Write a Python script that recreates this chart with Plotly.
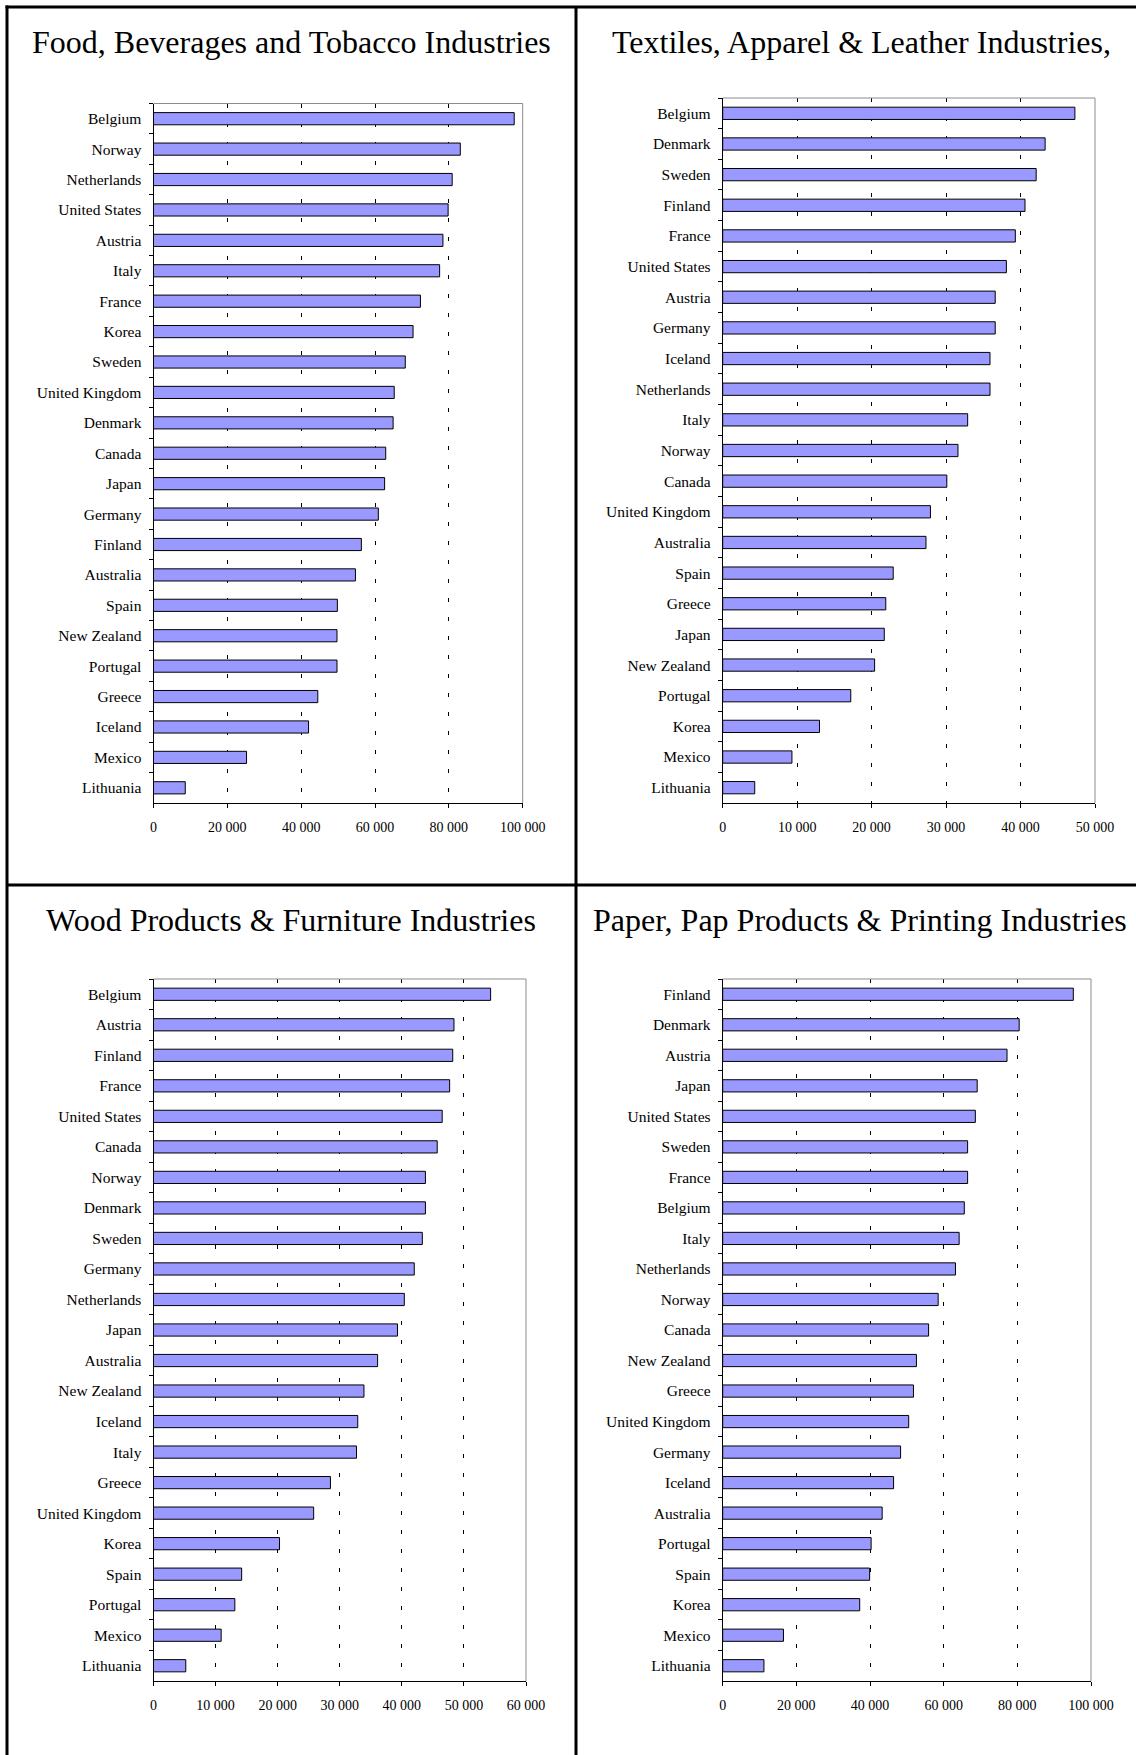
import plotly.graph_objects as go

# ---------------- data ----------------
food_countries = ["Belgium", "Norway", "Netherlands", "United States", "Austria", "Italy",
                  "France", "Korea", "Sweden", "United Kingdom", "Denmark", "Canada", "Japan",
                  "Germany", "Finland", "Australia", "Spain", "New Zealand", "Portugal",
                  "Greece", "Iceland", "Mexico", "Lithuania"]
food_values = [97700, 83100, 80900, 79800, 78400, 77500, 72300, 70300, 68200, 65200, 64900,
               62900, 62600, 60900, 56300, 54700, 49800, 49700, 49700, 44500, 42000, 25200, 8600]

textile_countries = ["Belgium", "Denmark", "Sweden", "Finland", "France", "United States",
                     "Austria", "Germany", "Iceland", "Netherlands", "Italy", "Norway", "Canada",
                     "United Kingdom", "Australia", "Spain", "Greece", "Japan", "New Zealand",
                     "Portugal", "Korea", "Mexico", "Lithuania"]
textile_values = [47300, 43300, 42100, 40600, 39300, 38100, 36600, 36600, 35900, 35900, 32900,
                  31600, 30100, 27900, 27300, 22900, 21900, 21700, 20400, 17200, 13000, 9300, 4300]

wood_countries = ["Belgium", "Austria", "Finland", "France", "United States", "Canada", "Norway",
                  "Denmark", "Sweden", "Germany", "Netherlands", "Japan", "Australia",
                  "New Zealand", "Iceland", "Italy", "Greece", "United Kingdom", "Korea", "Spain",
                  "Portugal", "Mexico", "Lithuania"]
wood_values = [54300, 48400, 48200, 47700, 46500, 45700, 43800, 43800, 43300, 42000, 40400,
               39300, 36100, 33900, 32900, 32700, 28500, 25800, 20300, 14200, 13100, 10900, 5200]

paper_countries = ["Finland", "Denmark", "Austria", "Japan", "United States", "Sweden", "France",
                   "Belgium", "Italy", "Netherlands", "Norway", "Canada", "New Zealand", "Greece",
                   "United Kingdom", "Germany", "Iceland", "Australia", "Portugal", "Spain",
                   "Korea", "Mexico", "Lithuania"]
paper_values = [95200, 80500, 77200, 69100, 68600, 66500, 66500, 65600, 64200, 63200, 58500,
                55900, 52600, 51800, 50500, 48300, 46400, 43300, 40300, 39900, 37200, 16500, 11200]

titles = ["Food, Beverages and Tobacco Industries",
          "Textiles, Apparel & Leather Industries,",
          "Wood Products & Furniture Industries",
          "Paper, Pap Products & Printing Industries"]
x_max = [100000, 50000, 60000, 100000]
x_step = [20000, 10000, 10000, 20000]

# ---------------- layout geometry ----------------
W, H = 1136, 1755
FONT = "Liberation Serif"

def px_x(p):
    return p / W

def px_y(p):
    return 1 - p / H

panels = [
    (food_countries, food_values, (153.5, 522.7), (103.5, 803)),
    (textile_countries, textile_values, (722.7, 1095), (98, 803)),
    (wood_countries, wood_values, (153.5, 526), (979, 1681)),
    (paper_countries, paper_values, (722.7, 1091), (979, 1681)),
]
title_pos = [(291, 42), (861, 42), (291, 920.5), (860, 920.5)]

fig = go.Figure()
layout = dict(
    width=W, height=H, autosize=False,
    margin=dict(l=0, r=0, t=0, b=0, pad=0),
    paper_bgcolor="white", plot_bgcolor="white",
    showlegend=False, bargap=0.6,
    separators=". ",
    font=dict(family=FONT, size=15, color="black"),
)
shapes = []
annotations = []

for i, (cats, vals, (x0, x1), (y0, y1)) in enumerate(panels):
    n = "" if i == 0 else str(i + 1)
    fig.add_trace(go.Bar(
        x=vals, y=cats, orientation="h",
        marker=dict(color="#9999FF", line=dict(color="black", width=1)),
        xaxis="x" + n, yaxis="y" + n, hoverinfo="x+y",
    ))
    layout["xaxis" + n] = dict(
        domain=[px_x(x0), px_x(x1)], anchor="y" + n, automargin=False,
        range=[0, x_max[i]], dtick=x_step[i], tick0=0,
        tickformat=",d",
        showline=True, linecolor="black", linewidth=1,
        ticks="outside", ticklen=4, tickcolor="black", tickwidth=1,
        showgrid=True, gridcolor="black", gridwidth=1, griddash="4px,15px",
        zeroline=False, fixedrange=True,
        tickfont=dict(family=FONT, size=14, color="black"),
        ticklabelstandoff=7,
    )
    layout["yaxis" + n] = dict(
        domain=[px_y(y1), px_y(y0)], anchor="x" + n, automargin=False,
        type="category", autorange="reversed",
        showline=True, linecolor="black", linewidth=1,
        ticks="outside", ticklen=4, tickcolor="black", tickwidth=1,
        tickson="boundaries", showgrid=False, zeroline=False, fixedrange=True,
        tickfont=dict(family=FONT, size=15.5, color="black"),
        ticklabelstandoff=8,
    )
    # grey top and right frame of plot area
    shapes.append(dict(type="line", xref="x" + n + " domain", yref="y" + n + " domain",
                       x0=0, x1=1, y0=1, y1=1, line=dict(color="#8c8c8c", width=1)))
    shapes.append(dict(type="line", xref="x" + n + " domain", yref="y" + n + " domain",
                       x0=1, x1=1, y0=0, y1=1, line=dict(color="#8c8c8c", width=1)))
    tx, ty = title_pos[i]
    annotations.append(dict(text=titles[i], xref="paper", yref="paper",
                            x=px_x(tx), y=px_y(ty), xanchor="center", yanchor="middle",
                            showarrow=False, font=dict(family=FONT, size=32, color="black")))

# panel frame lines
frame = dict(color="black", width=3)
shapes += [
    dict(type="line", xref="paper", yref="paper", x0=px_x(7), x1=px_x(7), y0=0, y1=px_y(5.5), line=frame),
    dict(type="line", xref="paper", yref="paper", x0=px_x(5.5), x1=1, y0=px_y(7), y1=px_y(7), line=frame),
    dict(type="line", xref="paper", yref="paper", x0=px_x(576), x1=px_x(576), y0=0, y1=px_y(7), line=frame),
    dict(type="line", xref="paper", yref="paper", x0=px_x(7), x1=1, y0=px_y(885), y1=px_y(885), line=frame),
]

layout["shapes"] = shapes
layout["annotations"] = annotations
fig.update_layout(**layout)

post = (
    "var s=document.createElement('style');"
    "s.textContent='html,body{margin:0!important;padding:0!important;overflow:hidden!important;}';"
    "document.head.appendChild(s);"
)
fig.write_html("out.html", config={"displayModeBar": False, "responsive": False},
               post_script=post)
